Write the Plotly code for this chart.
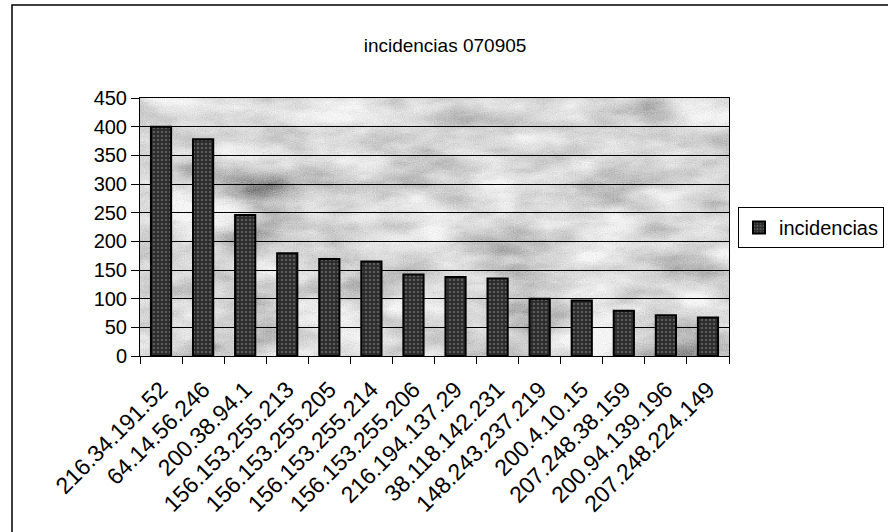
import base64
import plotly.graph_objects as go

# Daily incident counts per source IP
ips = [
    "216.34.191.52", "64.14.56.246", "200.38.94.1", "156.153.255.213",
    "156.153.255.205", "156.153.255.214", "156.153.255.206", "216.194.137.29",
    "38.118.142.231", "148.243.237.219", "200.4.10.15", "207.248.38.159",
    "200.94.139.196", "207.248.224.149",
]
incidencias = [400, 378, 246, 179, 169, 165, 142, 138, 135, 100, 97, 79, 71, 67]

y_ticks = [0, 50, 100, 150, 200, 250, 300, 350, 400, 450]

FONT = "Liberation Sans, Arial, sans-serif"

# Granite-like fill for the plot area, built as an SVG turbulence filter
granite_svg = (
    '<svg xmlns="http://www.w3.org/2000/svg" width="589" height="258">'
    '<filter id="g" x="0" y="0" width="100%" height="100%">'
    '<feTurbulence type="fractalNoise" baseFrequency="0.012 0.03" numOctaves="5" seed="7" result="n1"/>'
    '<feColorMatrix in="n1" type="matrix" values="'
    '0.33 0.33 0.33 0 0 0.33 0.33 0.33 0 0 0.33 0.33 0.33 0 0 0 0 0 0 1" result="g1"/>'
    '<feComponentTransfer in="g1" result="c1">'
    '<feFuncR type="linear" slope="2.2" intercept="-0.40"/>'
    '<feFuncG type="linear" slope="2.2" intercept="-0.40"/>'
    '<feFuncB type="linear" slope="2.2" intercept="-0.40"/>'
    '</feComponentTransfer>'
    '<feTurbulence type="fractalNoise" baseFrequency="0.9" numOctaves="1" seed="3" result="n2"/>'
    '<feColorMatrix in="n2" type="matrix" values="'
    '0.33 0.33 0.33 0 0 0.33 0.33 0.33 0 0 0.33 0.33 0.33 0 0 0 0 0 0 1" result="g2"/>'
    '<feComposite in="c1" in2="g2" operator="arithmetic" k1="0" k2="0.75" k3="0.55" k4="-0.12"/>'
    '</filter>'
    '<rect width="589" height="258" fill="#999" filter="url(#g)"/>'
    '</svg>'
)
granite_uri = "data:image/svg+xml;base64," + base64.b64encode(granite_svg.encode()).decode()

fig = go.Figure()
fig.add_trace(go.Bar(
    x=ips,
    y=incidencias,
    name="incidencias",
    marker=dict(
        color="#2a2a2a",
        line=dict(color="#000000", width=2),
        pattern=dict(shape=".", fgcolor="#8c8c8c", bgcolor="#2a2a2a", size=4, solidity=0.35),
    ),
    showlegend=True,
))

fig.update_layout(
    width=888,
    height=532,
    margin=dict(l=140, r=159, t=98, b=176, autoexpand=False),
    paper_bgcolor="#ffffff",
    plot_bgcolor="#a6a6a6",
    font=dict(family=FONT, size=20, color="#000000"),
    title=dict(
        text="incidencias 070905",
        x=(445 - 140) / 589, xref="paper", xanchor="center",
        y=1 - 45 / 532, yanchor="middle",
        font=dict(family=FONT, size=19, color="#000000"),
    ),
    bargap=0.52,
    showlegend=True,
    legend=dict(
        x=(738 - 140) / 589, xanchor="left",
        y=(356 - 207) / 258, yanchor="top",
        bgcolor="#ffffff",
        bordercolor="#000000",
        borderwidth=1,
        font=dict(family=FONT, size=20),
        itemsizing="constant",
        itemwidth=30,
        tracegroupgap=0,
    ),
    images=[dict(
        source=granite_uri,
        xref="paper", yref="paper",
        x=0, y=1, sizex=1, sizey=1,
        xanchor="left", yanchor="top",
        sizing="stretch", layer="below",
    )],
    shapes=[
        # outer chart frame (left and top edges fall inside the page)
        dict(type="rect", xref="paper", yref="paper",
             x0=(12 - 140) / 589, x1=(900 - 140) / 589,
             y0=(356 - 545) / 258, y1=(356 - 5) / 258,
             line=dict(color="#000000", width=1.5), fillcolor="rgba(0,0,0,0)",
             layer="below"),
    ],
)

fig.update_yaxes(
    range=[0, 450],
    tickvals=y_ticks,
    ticks="outside",
    ticklen=8,
    tickcolor="#000000",
    showline=True,
    linecolor="#000000",
    linewidth=1,
    mirror=True,
    showgrid=True,
    gridcolor="#000000",
    gridwidth=1,
    zeroline=False,
    tickfont=dict(family=FONT, size=20),
)
fig.update_xaxes(
    type="category",
    ticks="outside",
    tickson="boundaries",
    ticklen=7,
    tickcolor="#000000",
    tickangle=-45,
    ticklabelstandoff=10,
    showline=True,
    linecolor="#000000",
    linewidth=1,
    mirror=True,
    showgrid=False,
    tickfont=dict(family=FONT, size=23),
)

fig.write_html("out.html")
